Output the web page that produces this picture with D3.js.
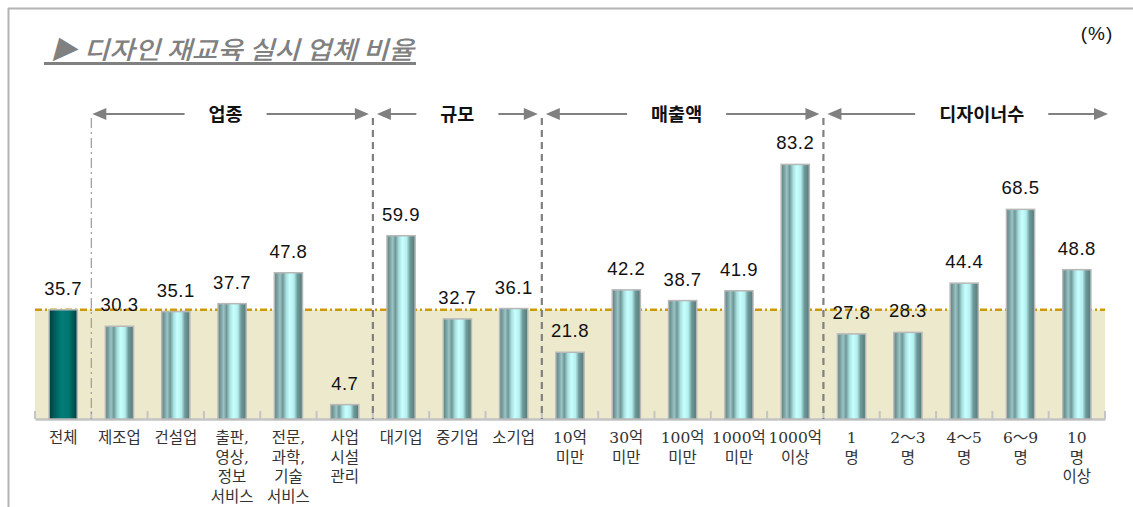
<!DOCTYPE html>
<html><head><meta charset="utf-8">
<script src="https://cdn.jsdelivr.net/npm/d3@7"></script>
<style>body{margin:0;background:#fff;}svg{display:block;}</style>
</head><body>
<svg id="chart" width="1133" height="507"></svg>
<script>
const categories = ["전체","제조업","건설업","출판,|영상,|정보|서비스","전문,|과학,|기술|서비스","사업|시설|관리","대기업","중기업","소기업","10억|미만","30억|미만","100억|미만","1000억|미만","1000억|이상","1|명","2～3|명","4～5|명","6～9|명","10|명|이상"];
const values = [35.7,30.3,35.1,37.7,47.8,4.7,59.9,32.7,36.1,21.8,42.2,38.7,41.9,83.2,27.8,28.3,44.4,68.5,48.8];
const groupNames = ["업종","규모","매출액","디자이너수"];
const groupStart = [1,6,9,14];
const groupEnd = [6,9,14,19];
const average = 35.7;
const titleText = "▶ 디자인 재교육 실시 업체 비율";
const unitText = "(%)";

const svg = d3.select("#chart");
const W = 1133, H = 507;
const x0 = 35, x1 = 1105, baseY = 419;

const x = d3.scaleBand().domain(d3.range(categories.length)).range([x0, x1]).paddingInner(0.5).paddingOuter(0.25);
const y = d3.scaleLinear().domain([0, 100]).range([baseY, baseY - 306]);
const step = x.step();
const boundary = k => x0 + step * k;

const defs = svg.append("defs");
const g1 = defs.append("linearGradient").attr("id","cyl").attr("x1","0").attr("x2","1").attr("y1","0").attr("y2","0");
[[0,"#5b8080"],[0.12,"#7fa6a6"],[0.2,"#9cc4c4"],[0.3,"#6e9696"],[0.42,"#a8dede"],[0.55,"#c8ffff"],[0.7,"#b4eeee"],[0.82,"#6f9a9a"],[1,"#557979"]]
  .forEach(([o,c]) => g1.append("stop").attr("offset",o).attr("stop-color",c));
const g2 = defs.append("linearGradient").attr("id","dark").attr("x1","0").attr("x2","1").attr("y1","0").attr("y2","0");
[[0,"#003c3c"],[0.2,"#005c5a"],[0.45,"#007d78"],[0.7,"#007570"],[1,"#003f3f"]]
  .forEach(([o,c]) => g2.append("stop").attr("offset",o).attr("stop-color",c));

// frame
svg.append("line").attr("x1",8).attr("x2",W).attr("y1",8.5).attr("y2",8.5).attr("stroke","#b4b4b4").attr("stroke-width",2);
svg.append("line").attr("x1",8.5).attr("x2",8.5).attr("y1",8).attr("y2",H).attr("stroke","#b4b4b4").attr("stroke-width",2);

// title
svg.append("text").attr("x",50).attr("y",59).attr("font-family","'Noto Sans CJK KR', sans-serif")
  .attr("font-size",25).attr("font-weight",500).attr("font-style","italic").attr("fill","#808080")
  .attr("textLength",364).attr("lengthAdjust","spacingAndGlyphs").text(titleText);
svg.append("line").attr("x1",44).attr("x2",416).attr("y1",63.5).attr("y2",63.5).attr("stroke","#808080").attr("stroke-width",3);
svg.append("text").attr("x",1097).attr("y",40).attr("text-anchor","middle").attr("font-family","'Liberation Sans', Arial, sans-serif")
  .attr("font-size",19).attr("letter-spacing",1).attr("fill","#111").text(unitText);

// beige average area
svg.append("rect").attr("x",x0).attr("y",y(average)).attr("width",x1-x0).attr("height",baseY-y(average)).attr("fill","#ede9cc");

// axis
const axis = d3.axisBottom(x).tickSize(0).tickFormat("");
const ag = svg.append("g").attr("transform",`translate(0,${baseY})`).call(axis);
ag.select(".domain").attr("stroke","#c4c4c4").attr("stroke-width",2.5);
ag.selectAll(".tickb").data(d3.range(categories.length+1)).enter().append("line")
  .attr("x1",k=>boundary(k)).attr("x2",k=>boundary(k)).attr("y1",0).attr("y2",-8).attr("stroke","#c4c4c4").attr("stroke-width",2);

// average line
svg.append("line").attr("x1",x0).attr("x2",x1).attr("y1",y(average)).attr("y2",y(average))
  .attr("stroke","#cc9a06").attr("stroke-width",2.5).attr("stroke-dasharray","7,3,2,3");

// separators
groupStart.forEach((s,i) => {
  svg.append("line").attr("x1",boundary(s)).attr("x2",boundary(s)).attr("y1",118).attr("y2",baseY)
    .attr("stroke", i===0 ? "#9a9a9a" : "#808080").attr("stroke-width", i===0 ? 1.2 : 2.2)
    .attr("stroke-dasharray", i===0 ? "10,4,2,4" : "7,5");
});

// group headers
const hy = 114;
function arrowHead(xp, dir){
  svg.append("path").attr("d",`M${xp},${hy} l${-dir*14},-6 l0,12 z`).attr("fill","#808080");
}
groupNames.forEach((name,i) => {
  const a = boundary(groupStart[i]) + (i===0?1:4), b = boundary(groupEnd[i]) - (i===3?-3:4);
  const c = (a+b)/2 + (i===0?-5:(i===2?-6:(i===3?14:0)));
  const t = svg.append("text").attr("x",c).attr("y",hy+6.5).attr("text-anchor","middle")
    .attr("font-family","'Noto Sans CJK KR', sans-serif").attr("font-weight","bold").attr("font-size",18.5).attr("fill","#111").text(name);
  const half = t.node().getComputedTextLength()/2 + 24;
  svg.append("line").attr("x1",a+10).attr("x2",c-half).attr("y1",hy).attr("y2",hy).attr("stroke","#808080").attr("stroke-width",2);
  svg.append("line").attr("x1",c+half).attr("x2",b-10).attr("y1",hy).attr("y2",hy).attr("stroke","#808080").attr("stroke-width",2);
  arrowHead(a,-1); arrowHead(b,1);
});

// bars
svg.selectAll(".bar").data(values).enter().append("rect")
  .attr("x",(d,i)=>x(i)).attr("y",d=>y(d)).attr("width",x.bandwidth()).attr("height",d=>baseY-y(d))
  .attr("fill",(d,i)=> i===0 ? "url(#dark)" : "url(#cyl)").attr("stroke","#b8b8b8").attr("stroke-width",1.5);

// value labels
svg.selectAll(".val").data(values).enter().append("text")
  .attr("x",(d,i)=>x(i)+x.bandwidth()/2).attr("y",d=>y(d)-15).attr("text-anchor","middle")
  .attr("font-family","'Liberation Sans', Arial, sans-serif").attr("font-size",18.5).attr("letter-spacing",0.5).attr("fill","#111")
  .text(d=>d.toFixed(1));

// category labels
categories.forEach((c,i) => {
  const t = svg.append("text").attr("x",x(i)+x.bandwidth()/2).attr("y",443).attr("text-anchor","middle")
    .attr("font-family","'DejaVu Serif', 'Noto Sans CJK KR', serif").attr("font-size",15.5).attr("fill","#333");
  c.split("|").forEach((line,j) => t.append("tspan").attr("x",x(i)+x.bandwidth()/2).attr("dy", j===0?0:19.5).text(line));
});
</script>
</body></html>
